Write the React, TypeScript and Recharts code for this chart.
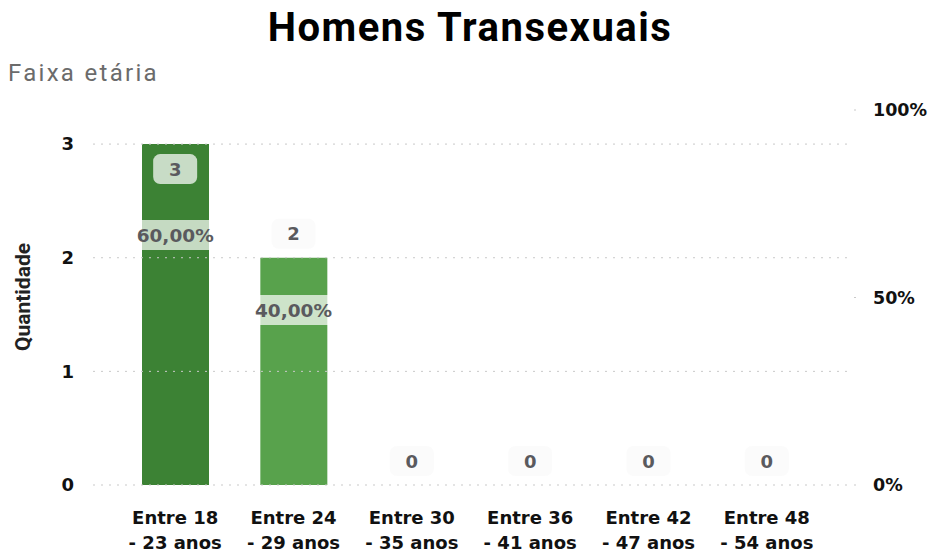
import React from 'react';
import { ComposedChart, Bar, Line, XAxis, YAxis, ReferenceLine, LabelList, Cell } from 'recharts';

const categories = [
  'Entre 18 - 23 anos',
  'Entre 24 - 29 anos',
  'Entre 30 - 35 anos',
  'Entre 36 - 41 anos',
  'Entre 42 - 47 anos',
  'Entre 48 - 54 anos',
];
const quantidade = [3, 2, 0, 0, 0, 0];
const percentual = [0.6, 0.4, 0, 0, 0, 0];
const barColors = ['#3c8234', '#58a24c', '#58a24c', '#58a24c', '#58a24c', '#58a24c'];
const leftTicks = [0, 1, 2, 3];
const rightTicks = [0, 0.5, 1];

const LABEL_FONT = "'DejaVu Sans', sans-serif";
const PLOT_TOP = 110;

// Build chart rows
const chartData = categories.map((name, i) => ({
  name,
  qtd: quantidade[i],
  pct: percentual[i],
}));

const CategoryTick = (props: any) => {
  const { x, y, payload } = props;
  const [first, second] = String(payload.value).split(' - ');
  return (
    <g>
      <text x={x} y={y + 38.5} textAnchor="middle" fontFamily={LABEL_FONT} fontWeight="bold" fontSize={18} fill="#111">
        {first}
      </text>
      <text x={x} y={y + 64} textAnchor="middle" fontFamily={LABEL_FONT} fontWeight="bold" fontSize={18} fill="#111">
        - {second}
      </text>
    </g>
  );
};

// y here is the top of the bar (the point of the hidden count line)
const BarValueLabel = (props: any) => {
  const { x, y, value } = props;
  const inside = y - 40 < PLOT_TOP;
  const cy = inside ? y + 25 : y - 24;
  const w = 44;
  return (
    <g>
      <rect
        x={x - w / 2}
        y={cy - 15}
        width={w}
        height={30}
        rx={7}
        fill={inside ? '#ffffff' : '#f2f2f2'}
        fillOpacity={inside ? 0.72 : 0.3}
      />
      <text x={x} y={cy + 6.5} textAnchor="middle" fontFamily={LABEL_FONT} fontWeight="bold" fontSize={18} fill="#5a5a5e">
        {value}
      </text>
    </g>
  );
};

const PctLabel = (props: any) => {
  const { x, y, value } = props;
  if (!value) return null;
  const cy = y - 25;
  const text = (value * 100).toFixed(2).replace('.', ',') + '%';
  return (
    <g>
      <rect x={x - 56} y={cy - 15} width={112} height={30} rx={6} fill="#ffffff" fillOpacity={0.7} />
      <text x={x} y={cy + 7} textAnchor="middle" fontFamily={LABEL_FONT} fontWeight="bold" fontSize={18.5} fill="#5a5a5e">
        {text}
      </text>
    </g>
  );
};

export default function App() {
  return (
    <div style={{ position: 'absolute', left: 0, top: 0, width: 931, height: 553, background: '#fff' }}>
      <div
        style={{
          position: 'absolute',
          left: 0,
          width: 940,
          top: 7,
          textAlign: 'center',
          fontFamily: 'Roboto, sans-serif',
          fontWeight: 700,
          fontSize: 40,
          lineHeight: '42px',
          letterSpacing: 1.5,
          color: '#000',
        }}
      >
        Homens Transexuais
      </div>
      <div
        style={{
          position: 'absolute',
          left: 8,
          top: 58,
          fontFamily: 'Roboto, sans-serif',
          fontSize: 24,
          lineHeight: '30px',
          letterSpacing: 2.3,
          color: '#6b6b6b',
        }}
      >
        Faixa etária
      </div>
      <div
        style={{
          position: 'absolute',
          left: 23,
          top: 297,
          transform: 'translate(-50%, -50%) rotate(-90deg)',
          fontFamily: 'Roboto, sans-serif',
          fontWeight: 700,
          fontSize: 21,
          whiteSpace: 'nowrap',
          color: '#222',
        }}
      >
        Quantidade
      </div>
      <ComposedChart
        width={931}
        height={553}
        data={chartData}
        margin={{ top: PLOT_TOP, right: 0, bottom: 0, left: 0 }}
        barCategoryGap={0}
      >
        <XAxis
          dataKey="name"
          height={68}
          axisLine={false}
          tickLine={false}
          tickSize={0}
          tickMargin={0}
          interval={0}
          padding={{ left: 23, right: 24 }}
          tick={<CategoryTick />}
        />
        <YAxis
          yAxisId="left"
          width={93}
          domain={[0, 3.3]}
          ticks={leftTicks}
          axisLine={false}
          tickLine={false}
          tickSize={0}
          tickMargin={19}
          tick={{ fontFamily: LABEL_FONT, fontWeight: 'bold', fontSize: 18, fill: '#111' }}
        />
        <YAxis
          yAxisId="right"
          orientation="right"
          width={81}
          domain={[0, 1]}
          ticks={rightTicks}
          axisLine={false}
          tickLine={{ stroke: '#c9c9c9', strokeDasharray: '2 4' }}
          tickSize={6}
          tickMargin={17}
          tickFormatter={(v: number) => `${Math.round(v * 100)}%`}
          tick={{ fontFamily: LABEL_FONT, fontWeight: 'bold', fontSize: 17.5, fill: '#111' }}
        />
        {leftTicks.map((t) => (
          <ReferenceLine key={t} yAxisId="left" y={t} stroke="#c9c9c9" strokeDasharray="2 6" />
        ))}
        <Bar yAxisId="left" dataKey="qtd" barSize={67} isAnimationActive={false}>
          {chartData.map((_, i) => (
            <Cell key={i} fill={barColors[i]} />
          ))}
        </Bar>
        <Line yAxisId="left" dataKey="qtd" stroke="none" dot={false} activeDot={false} isAnimationActive={false}>
          <LabelList dataKey="qtd" content={<BarValueLabel />} />
        </Line>
        <Line yAxisId="right" dataKey="pct" stroke="none" dot={false} activeDot={false} isAnimationActive={false}>
          <LabelList dataKey="pct" content={<PctLabel />} />
        </Line>
      </ComposedChart>
    </div>
  );
}
